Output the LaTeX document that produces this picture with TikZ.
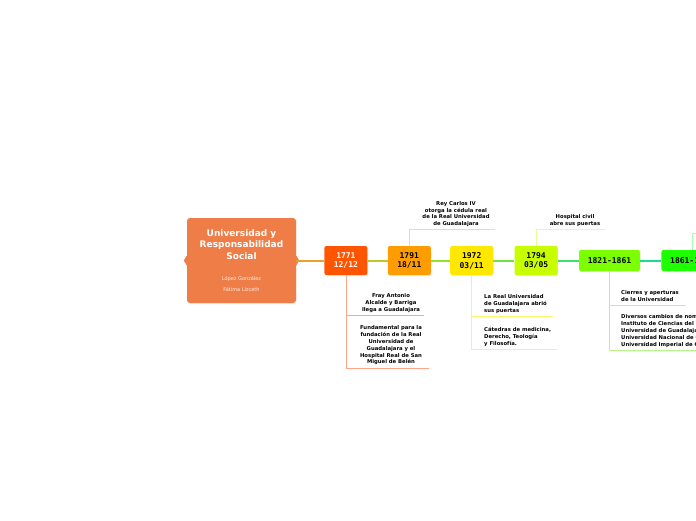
\documentclass[tikz,border=0pt]{standalone}
\usepackage{fontspec}
\setmainfont{DejaVu Sans}
\newfontfamily\datefont{DejaVu Sans Mono}
\usetikzlibrary{positioning, shadows}
\definecolor{ctrorange}{HTML}{EF7D48}
\definecolor{c1771}{HTML}{FF5500}
\definecolor{c1791}{HTML}{FF9D00}
\definecolor{c1972}{HTML}{FFE800}
\definecolor{c1794}{HTML}{C8FF00}
\definecolor{c1821}{HTML}{7CFF00}
\definecolor{c1861}{HTML}{1EFF00}
\definecolor{k1771}{HTML}{FFA688}
\definecolor{k1791}{HTML}{FFD39A}
\definecolor{k1972}{HTML}{FFF36A}
\definecolor{k1794}{HTML}{E2FF96}
\definecolor{k1821}{HTML}{B6F586}
\definecolor{k1861}{HTML}{A4FFB4}
\tikzset{
  ctrbox/.style={fill=ctrorange, rounded corners=3pt, minimum width=109pt, minimum height=85pt, inner sep=0pt, drop shadow={opacity=.12, shadow xshift=.5pt, shadow yshift=-.8pt}},
  ctrtitle/.style={text=white, align=center, font=\bfseries\fontsize{9}{11.5}\selectfont, inner sep=0pt},
  ctrsub/.style={text=white!90!ctrorange, align=center, font=\fontsize{5}{11}\selectfont, inner sep=0pt},
  datebox/.style={rounded corners=2pt, minimum width=43pt, minimum height=29pt, align=center, inner sep=1pt, font=\datefont\bfseries\fontsize{8}{9.8}\selectfont, drop shadow={opacity=.15, shadow xshift=.6pt, shadow yshift=-.8pt}},
  spanbox/.style={datebox, minimum width=61pt, minimum height=21pt},
  notetxt/.style={font=\bfseries\fontsize{5.3}{6.8}\selectfont, align=center, inner sep=0pt},
  noteleft/.style={notetxt, align=left, anchor=west},
  spine/.style={line width=2pt},
  twig/.style={line width=.8pt},
}
\begin{document}
\begin{tikzpicture}[x=1pt, y=-1pt, node distance=20pt]
  \useasboundingbox (0,0) rectangle (696,520);
  \clip (0,0) rectangle (696,520);
  % centre
  \node[ctrbox] (ctr) at (241.5,260.5) {};
  \fill[ctrorange] (ctr.west) ++(0,-5) -- ++(-3,5) -- ++(3,5) -- cycle;
  \fill[ctrorange] (ctr.east) ++(0,-5) -- ++(3,5) -- ++(-3,5) -- cycle;
  \node[ctrtitle] (ttl) at (241.5,244.5) {Universidad y\\Responsabilidad\\Social};
  \node[ctrsub] (who) at (241.5,284.5) {López González\\Fátima Lizceth};

  % timeline
  \node[datebox, fill=c1771, text=white, right=28pt of ctr] (d1771) {1771\\12/12};
  \node[datebox, fill=c1791, right=of d1771] (d1791) {1791\\18/11};
  \node[datebox, fill=c1972, right=19pt of d1791] (d1972) {1972\\03/11};
  \node[datebox, fill=c1794, right=21pt of d1972] (d1794) {1794\\03/05};
  \node[spanbox, fill=c1821, right=21pt of d1794] (d1821) {1821-1861};
  \node[spanbox, fill=c1861, right=21pt of d1821] (d1861) {1861-1910};

  \draw[spine, color={rgb,255:red,232;green,160;blue,48}] (ctr) -- (d1771);
  \draw[spine, color={rgb,255:red,190;green,200;blue,40}] (d1771) -- (d1791);
  \draw[spine, color={rgb,255:red,150;green,225;blue,40}] (d1791) -- (d1972);
  \draw[spine, color={rgb,255:red,110;green,228;blue,70}] (d1972) -- (d1794);
  \draw[spine, color={rgb,255:red,60;green,226;blue,110}] (d1794) -- (d1821);
  \draw[spine, color={rgb,255:red,30;green,218;blue,140}] (d1821) -- (d1861);

  % 1771
  \coordinate (u1a) at (424,315);
  \coordinate (u1b) at (429,368);
  \draw[twig, k1771] (d1771.south) |- (u1a);
  \draw[twig, k1771] (d1771.south) |- (u1b);
  \node[notetxt] (n1a) at (391,303) {Fray Antonio\\Alcalde y Barriga\\llega a Guadalajara};
  \node[notetxt] (n1b) at (391,345.5) {Fundamental para la\\fundación de la Real\\Universidad de\\Guadalajara y el\\Hospital Real de San\\Miguel de Belén};

  % 1791
  \coordinate (u2a) at (495,229);
  \draw[twig, k1791] (d1791.north) |- (u2a);
  \node[notetxt] (n2a) at (456,214) {Rey Carlos IV\\otorga la cédula real\\de la Real Universidad\\de Guadalajara};

  % 1972
  \coordinate (u3a) at (553,316);
  \coordinate (u3b) at (557,349);
  \draw[twig, k1972] (d1972.south) |- (u3a);
  \draw[twig, k1972] (d1972.south) |- (u3b);
  \node[noteleft] (n3a) at (484,304) {La Real Universidad\\de Guadalajara abrió\\sus puertas};
  \node[noteleft] (n3b) at (484,337) {Cátedras de medicina,\\Derecho, Teología\\y Filosofía.};

  % 1794
  \coordinate (u4a) at (605,229);
  \draw[twig, k1794] (d1794.north) |- (u4a);
  \node[notetxt] (n4a) at (575,220.5) {Hospital civil\\abre sus puertas};

  % 1821-1861
  \coordinate (u5a) at (686,305);
  \coordinate (u5b) at (700,350);
  \draw[twig, k1821] (d1821.south) |- (u5a);
  \draw[twig, k1821] (d1821.south) |- (u5b);
  \node[noteleft] (n5a) at (621,296) {Cierres y aperturas\\de la Universidad};
  \node[noteleft] (n5b) at (621,331) {Diversos cambios de nombre:\\Instituto de Ciencias del Estado,\\Universidad de Guadalajara,\\Universidad Nacional de Guadalajara,\\Universidad Imperial de Guadalajara};

  % 1861
  \coordinate (u6a) at (700,233);
  \draw[twig, k1861] (d1861.north) |- (u6a);
\end{tikzpicture}
\end{document}
